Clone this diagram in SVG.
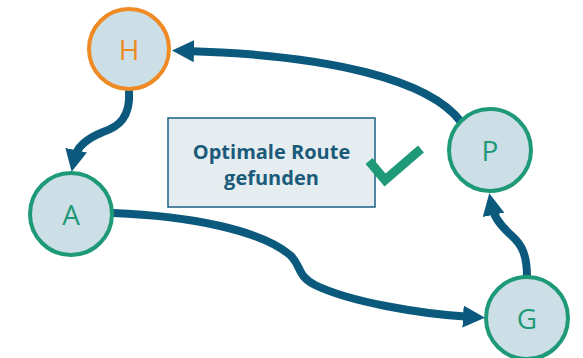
<svg xmlns="http://www.w3.org/2000/svg" width="583" height="358" viewBox="0 0 583 358">
  <style>
    .edge { fill: none; stroke: #0b5a7d; stroke-width: 8; stroke-linecap: butt; marker-end: url(#arrow); }
    .node circle { fill: #cddfe6; stroke-width: 4; }
    .node text { font-family: "Open Sans", "Liberation Sans", sans-serif; font-size: 28px; text-anchor: middle; dominant-baseline: central; }
    .start circle { stroke: #f08a24; }
    .start text { fill: #f08a24; }
    .stop circle { stroke: #1e9a78; }
    .stop text { fill: #1e9a78; }
    .note rect { fill: #e5edf1; stroke: #1b5f82; stroke-width: 1.5; }
    .note text { font-family: "Open Sans", "Liberation Sans", sans-serif; font-weight: bold; font-size: 20px; fill: #1b5a7a; text-anchor: middle; }
  </style>
  <defs>
    <marker id="arrow" markerUnits="userSpaceOnUse" viewBox="0 0 22 22" markerWidth="22" markerHeight="22" refX="8" refY="11" orient="auto">
      <path d="M0,0 L22,11 L0,22 Z" fill="#0b5a7d"/>
    </marker>
  </defs>

  <g id="edges">
    <path id="edge-H-A" class="edge" d="M129,90 C131,118 118,127 103,132 C88,138 77,146 74.5,158"/>
    <path id="edge-P-H" class="edge" d="M461,122 C430,80 330,55 186,51"/>
    <path id="edge-A-G" class="edge" d="M113,213 C190,216 260,230 290,255 C302,266 296,275 315,285 C350,302 420,314 471,317"/>
    <path id="edge-G-P" class="edge" d="M527,277 C527,255 522,245 512,236 C500,225 494,217 492,207"/>
  </g>

  <g id="node-H" class="node start">
    <circle cx="129" cy="49" r="40"/>
    <text x="129" y="49">H</text>
  </g>
  <g id="node-A" class="node stop">
    <circle cx="71" cy="214" r="41"/>
    <text x="71" y="214">A</text>
  </g>
  <g id="node-P" class="node stop">
    <circle cx="490" cy="150" r="41"/>
    <text x="490" y="150">P</text>
  </g>
  <g id="node-G" class="node stop">
    <circle cx="527" cy="318" r="41"/>
    <text x="527" y="318">G</text>
  </g>

  <g id="note" class="note">
    <rect x="168" y="118" width="207" height="89"/>
    <text x="271.5" y="159">Optimale Route</text>
    <text x="271.5" y="185">gefunden</text>
  </g>

  <g id="check">
    <path d="M369,161 L385,180 L421,149" fill="none" stroke="#1e9a78" stroke-width="9"/>
  </g>
</svg>
